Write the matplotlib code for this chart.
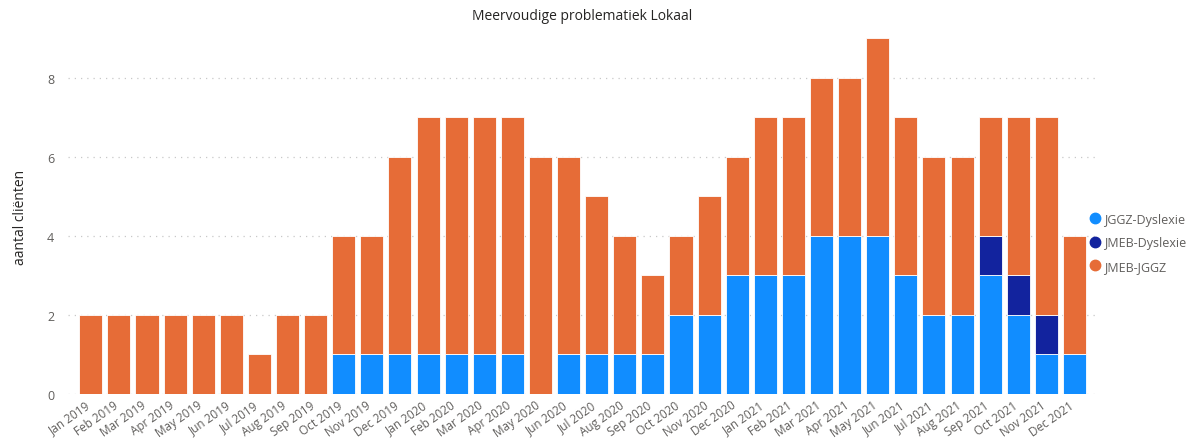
import matplotlib
matplotlib.use("Agg")
import matplotlib.pyplot as plt
import matplotlib.transforms as mtransforms
from matplotlib.lines import Line2D
import numpy as np

months = ["Jan", "Feb", "Mar", "Apr", "May", "Jun", "Jul", "Aug", "Sep", "Oct", "Nov", "Dec"]
labels = [f"{m} {y}" for y in (2019, 2020, 2021) for m in months]

totals = [2, 2, 2, 2, 2, 2, 1, 2, 2, 4, 4, 6,
          7, 7, 7, 7, 6, 6, 5, 4, 3, 4, 5, 6,
          7, 7, 8, 8, 9, 7, 6, 6, 7, 7, 7, 4]
jggz_dys = [0, 0, 0, 0, 0, 0, 0, 0, 0, 1, 1, 1,
            1, 1, 1, 1, 0, 1, 1, 1, 1, 2, 2, 3,
            3, 3, 4, 4, 4, 3, 2, 2, 3, 2, 1, 1]
jmeb_dys = [0, 0, 0, 0, 0, 0, 0, 0, 0, 0, 0, 0,
            0, 0, 0, 0, 0, 0, 0, 0, 0, 0, 0, 0,
            0, 0, 0, 0, 0, 0, 0, 0, 1, 1, 1, 0]
jmeb_jggz = [t - a - b for t, a, b in zip(totals, jggz_dys, jmeb_dys)]

series = [("JGGZ-Dyslexie", jggz_dys, "#118DFF"),
          ("JMEB-Dyslexie", jmeb_dys, "#12239E"),
          ("JMEB-JGGZ", jmeb_jggz, "#E66C37")]

plt.rcParams['font.family'] = ['Open Sans', 'DejaVu Sans']

fig = plt.figure(figsize=(11.98, 4.39), dpi=100)
ax = fig.add_axes([0.057, 0.1002, 0.8575, 0.811])

x = np.arange(len(labels))
bottom = np.zeros(len(labels))
for name, vals, col in series:
    v = np.array(vals, dtype=float)
    ax.bar(x, v, width=0.82, bottom=bottom, color=col, edgecolor="white",
           linewidth=0.6, zorder=3, label=name)
    bottom += v

ax.set_xlim(-0.8, 35.75)
ax.set_ylim(0, 9)
ax.set_yticks([0, 2, 4, 6, 8])
ax.grid(axis="y", linestyle=(0, (1, 4)), color="#c8c8c8", linewidth=0.9, zorder=0)
for s in ax.spines.values():
    s.set_visible(False)
ax.tick_params(axis="both", length=0, colors="#605E5C")
ax.tick_params(axis="y", pad=10, labelsize=9)
ax.set_xticks(x)
ax.set_xticklabels(labels, rotation=35, ha="right", rotation_mode="anchor")
ax.tick_params(axis="x", pad=3, labelsize=8.5)
offset = mtransforms.ScaledTranslation(-6 / 100, 0, fig.dpi_scale_trans)
for lbl in ax.get_xticklabels():
    lbl.set_transform(lbl.get_transform() + offset)

ax.set_ylabel("aantal cliënten", fontsize=10, color="#252423", labelpad=14)
fig.text(0.486, 0.962, "Meervoudige problematiek Lokaal", ha="center", va="center",
         fontsize=10, color="#252423")

handles = [Line2D([0], [0], marker="o", linestyle="", markersize=7.5,
                  markerfacecolor=c, markeredgecolor=c) for _, _, c in series]
leg = fig.legend(handles, [n for n, _, _ in series], loc="center left",
                 bbox_to_anchor=(0.904, 0.445), frameon=False, fontsize=9,
                 handletextpad=0.05, labelspacing=0.85, handlelength=1.2,
                 borderaxespad=0)
for t in leg.get_texts():
    t.set_color("#605E5C")

fig.savefig("out.png", dpi=100)
